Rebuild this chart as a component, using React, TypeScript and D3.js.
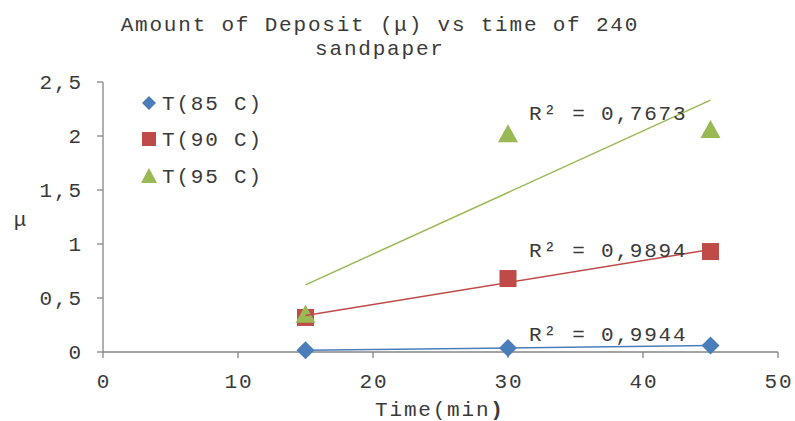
import React from "react";
import * as d3 from "d3";

const xTimes = [15, 30, 45];
const seriesNames = ["T(85 C)", "T(90 C)", "T(95 C)"];
const values85 = [0.016, 0.037, 0.06];
const values90 = [0.32, 0.68, 0.93];
const values95 = [0.35, 2.02, 2.06];
const r2Labels = ["R² = 0,9944", "R² = 0,9894", "R² = 0,7673"];
const xTicks = [0, 10, 20, 30, 40, 50];
const yTicks = [0, 0.5, 1, 1.5, 2, 2.5];
const colors = ["#4a7ebb", "#be4b48", "#98b954"];
const shapes = ["diamond", "square", "triangle"];

const FONT = "'Liberation Mono', 'Courier New', monospace";
const W = 795, H = 421;
const TXT = "#3a3a3a";
const FS = 21;
const LS = 1.8;

function regress(xs: number[], ys: number[]) {
  const mx = d3.mean(xs)!, my = d3.mean(ys)!;
  let sxy = 0, sxx = 0;
  xs.forEach((x, i) => { sxy += (x - mx) * (ys[i] - my); sxx += (x - mx) ** 2; });
  const b = sxy / sxx;
  const a = my - b * mx;
  return (x: number) => a + b * x;
}

function Marker({ shape, x, y, color }: { shape: string; x: number; y: number; color: string }) {
  if (shape === "diamond") {
    const r = 9;
    return <path d={`M${x},${y - r}L${x + r},${y}L${x},${y + r}L${x - r},${y}Z`} fill={color} />;
  }
  if (shape === "square") {
    const s = 17;
    return <rect x={x - s / 2} y={y - s / 2} width={s} height={s} fill={color} />;
  }
  const w = 20, h = 17;
  return <path d={`M${x},${y - h / 2 - 1}L${x + w / 2},${y + h / 2}L${x - w / 2},${y + h / 2}Z`} fill={color} />;
}

export default function App() {
  const x = d3.scaleLinear().domain([0, 50]).range([103, 778]);
  const y = d3.scaleLinear().domain([0, 2.5]).range([352, 82]);
  const allSeries = [values85, values90, values95];
  const fmt = (v: number) => String(v).replace(".", ",");
  const r2Y = [0.17, 0.95, 2.22];
  const ls = { letterSpacing: `${LS}px` };

  return (
    <svg width={W} height={H} style={{ display: "block", position: "absolute", left: 0, top: 0 }} fontFamily={FONT} fontSize={FS} fill={TXT}>
      <rect width={W} height={H} fill="#fff" />
      <text x={379 + LS / 2} y={31} textAnchor="middle" style={ls}>Amount of Deposit (μ) vs time of 240</text>
      <text x={379 + LS / 2} y={55} textAnchor="middle" style={ls}>sandpaper</text>

      {/* axes */}
      <line x1={x(0)} x2={x(0)} y1={y(2.5)} y2={y(0)} stroke="#868686" strokeWidth={1.3} />
      <line x1={x(0)} x2={x(50)} y1={y(0)} y2={y(0)} stroke="#868686" strokeWidth={1.3} />
      {yTicks.map((t) => (
        <g key={"y" + t}>
          <line x1={x(0) - 6} x2={x(0)} y1={y(t)} y2={y(t)} stroke="#868686" strokeWidth={1.3} />
          <text x={81 + LS} y={y(t)} dy="0.35em" textAnchor="end" style={ls}>{fmt(t)}</text>
        </g>
      ))}
      {xTicks.map((t) => (
        <g key={"x" + t}>
          <line x1={x(t)} x2={x(t)} y1={y(0)} y2={y(0) + 6} stroke="#868686" strokeWidth={1.3} />
          <text x={x(t) + LS / 2} y={388} textAnchor="middle" style={ls}>{t}</text>
        </g>
      ))}
      <text x={20} y={226} textAnchor="middle">μ</text>
      <text x={439 + LS / 2} y={416} textAnchor="middle" style={ls}>Time(min<tspan fontWeight="bold">)</tspan></text>

      {/* markers */}
      {allSeries.map((vals, si) => (
        <g key={"m" + si}>
          {vals.map((v, i) => (
            <Marker key={i} shape={shapes[si]} x={x(xTimes[i])} y={y(v)} color={colors[si]} />
          ))}
        </g>
      ))}
      {/* trendlines */}
      {allSeries.map((vals, si) => {
        const f = regress(xTimes, vals);
        const x0 = d3.min(xTimes)!, x1 = d3.max(xTimes)!;
        return <line key={"t" + si} x1={x(x0)} y1={y(f(x0))} x2={x(x1)} y2={y(f(x1))} stroke={colors[si]} strokeWidth={1.5} />;
      })}
      {r2Labels.map((l, i) => (
        <text key={"r" + i} x={529} y={y(r2Y[i])} dy="0.35em" style={ls}>{l}</text>
      ))}

      {/* legend */}
      {seriesNames.map((n, i) => (
        <g key={"l" + i}>
          {shapes[i] === "diamond" && <path d={`M149,${103 - 7}L${156},103L149,${103 + 7}L142,103Z`} fill={colors[i]} />}
          {shapes[i] === "square" && <rect x={142} y={139 - 7} width={14} height={14} fill={colors[i]} />}
          {shapes[i] === "triangle" && <path d={`M149,${176 - 8}L157,${176 + 7}L141,${176 + 7}Z`} fill={colors[i]} />}
          <text x={162} y={[103, 139, 176][i]} dy="0.35em" style={ls}>{n}</text>
        </g>
      ))}
    </svg>
  );
}
